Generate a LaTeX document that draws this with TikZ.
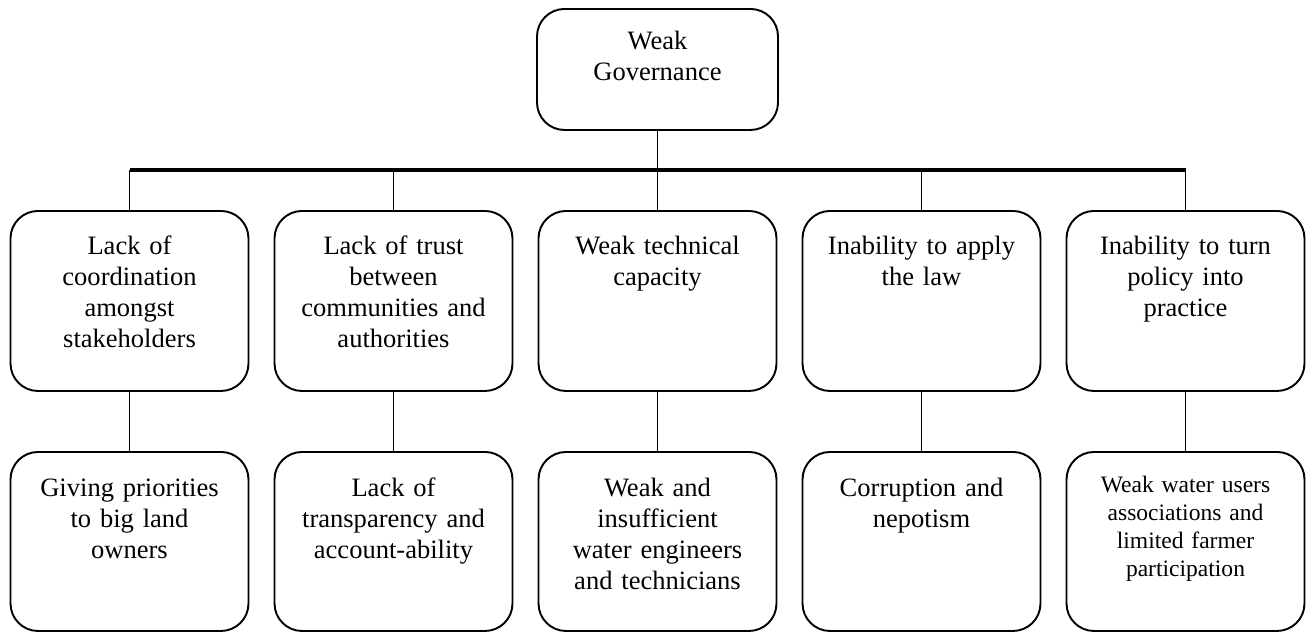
\documentclass[tikz,border=0pt]{standalone}
\usepackage{fontspec}
\setmainfont{Liberation Serif}
\usetikzlibrary{positioning}
\tikzset{card/.style={draw=black,line width=1.1pt,rounded corners=0.55cm,anchor=north,align=center,text width=4.56cm,inner xsep=0.1cm,inner ysep=0pt,font=\fontsize{15.1}{17.6}\selectfont},
cause/.style={card,text height=0.88cm,text depth=2.72cm},
root/.style={card,text height=0.9cm,text depth=2.68cm},
link/.style={line width=1.1pt},bar/.style={line width=2.4pt}}
\begin{document}
\begin{tikzpicture}
\useasboundingbox (0,0) rectangle (26.12,-12.64);
\node[card,text width=4.62cm,text height=0.82cm,text depth=1.6cm] (top) at (13.15,-0.16) {Weak\\Governance};
% causes
\node[cause] (m1) at (2.59,-4.2) {Lack of\\coordination\\amongst\\stakeholders};
\node[cause] (m2) at (7.87,-4.2) {Lack of trust\\between\\communities and\\authorities};
\node[cause] (m3) at (13.15,-4.2) {Weak technical\\capacity};
\node[cause] (m4) at (18.43,-4.2) {Inability to apply\\the law};
\node[cause] (m5) at (23.71,-4.2) {Inability to turn\\policy into\\practice};
% root causes
\node[root] (b1) at (2.59,-9.02) {Giving priorities\\to big land\\owners};
\node[root] (b2) at (7.87,-9.02) {Lack of\\transparency and\\account-ability};
\node[root] (b3) at (13.15,-9.02) {Weak and\\insufficient\\water engineers\\and technicians};
\node[root] (b4) at (18.43,-9.02) {Corruption and\\nepotism};
\node[root,text height=0.82cm,text depth=2.76cm,font=\fontsize{13.4}{15.8}\selectfont] (b5) at (23.71,-9.02) {Weak water users\\associations and\\limited farmer\\participation};
\coordinate (bl) at (2.59,-3.4);\coordinate (br) at (23.71,-3.4);
\draw[bar](bl)--(br);
\draw[link](top)--(m3);
\foreach \i in {1,2,4,5}{\draw[link](m\i.north)--(m\i.north|-bl);}
\foreach \i in {1,...,5}{\draw[link](m\i)--(b\i);}
\end{tikzpicture}
\end{document}
